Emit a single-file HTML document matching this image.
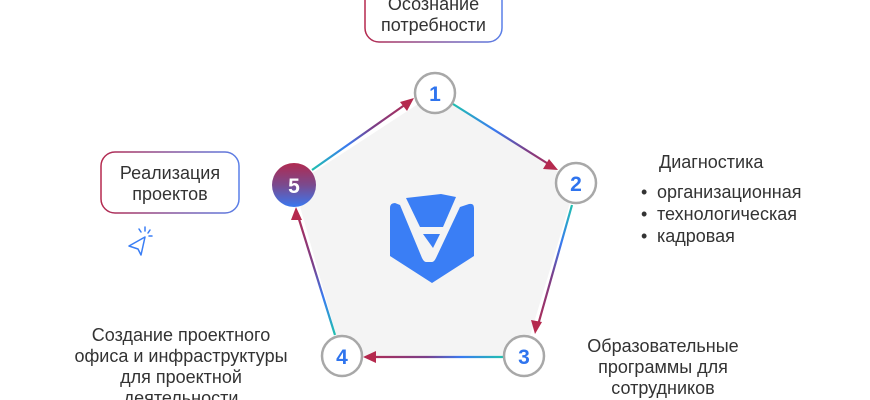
<!DOCTYPE html>
<html><head><meta charset="utf-8"><style>
html,body{margin:0;padding:0;background:#fff;width:870px;height:400px;overflow:hidden}
svg{display:block}
text{font-family:"Liberation Sans",Arial,sans-serif}
</style></head><body>
<svg width="870" height="400" viewBox="0 0 870 400" xmlns="http://www.w3.org/2000/svg">
<defs>
<linearGradient id="bx" x1="0" y1="0" x2="1" y2="0"><stop offset="0" stop-color="#b5294e"/><stop offset="1" stop-color="#5a7fe8"/></linearGradient>
<linearGradient id="c5" x1="0" y1="0" x2="0" y2="1"><stop offset="0" stop-color="#b02a50"/><stop offset="0.5" stop-color="#7a4a8e"/><stop offset="1" stop-color="#3a78f0"/></linearGradient>
<linearGradient id="e1" gradientUnits="userSpaceOnUse" x1="453" y1="104" x2="557" y2="170"><stop offset="0" stop-color="#20c0b0"/><stop offset="0.4" stop-color="#3a7af0"/><stop offset="0.7" stop-color="#7a3f8a"/><stop offset="1" stop-color="#b5294e"/></linearGradient>
<linearGradient id="e2" gradientUnits="userSpaceOnUse" x1="572" y1="205" x2="535" y2="333"><stop offset="0" stop-color="#20c0b0"/><stop offset="0.3" stop-color="#3a7af0"/><stop offset="0.55" stop-color="#7a3f8a"/><stop offset="1" stop-color="#b5294e"/></linearGradient>
<linearGradient id="e3" gradientUnits="userSpaceOnUse" x1="503" y1="357" x2="364" y2="357"><stop offset="0" stop-color="#20c0b0"/><stop offset="0.3" stop-color="#3a7af0"/><stop offset="0.55" stop-color="#7a3f8a"/><stop offset="1" stop-color="#b5294e"/></linearGradient>
<linearGradient id="e4" gradientUnits="userSpaceOnUse" x1="335" y1="335" x2="296" y2="208"><stop offset="0" stop-color="#20c0b0"/><stop offset="0.3" stop-color="#3a7af0"/><stop offset="0.55" stop-color="#7a3f8a"/><stop offset="1" stop-color="#b5294e"/></linearGradient>
<linearGradient id="e5" gradientUnits="userSpaceOnUse" x1="312" y1="170" x2="413" y2="99"><stop offset="0" stop-color="#20c0b0"/><stop offset="0.35" stop-color="#3a7af0"/><stop offset="0.6" stop-color="#7a3f8a"/><stop offset="1" stop-color="#b5294e"/></linearGradient>
</defs>
<polygon points="435,93 576,183 524,356 342,356 294,185" fill="#f4f4f4"/>
<g stroke-width="2.2" fill="none">
<line x1="453" y1="104" x2="550" y2="165" stroke="url(#e1)"/>
<line x1="572" y1="205" x2="538" y2="325" stroke="url(#e2)"/>
<line x1="503" y1="357" x2="372" y2="357" stroke="url(#e3)"/>
<line x1="335" y1="335" x2="298" y2="216" stroke="url(#e4)"/>
<line x1="312" y1="170" x2="406" y2="104" stroke="url(#e5)"/>
</g>
<g fill="#b5294e">
<polygon points="558,170 543,169 549,159"/>
<polygon points="535,334 531,320 542,322"/>
<polygon points="363,357 376,351 376,363"/>
<polygon points="296,207 302,220 291,220"/>
<polygon points="414,98 407,111 400,102"/>
</g>
<g fill="#fff" stroke="#a8a8a8" stroke-width="2.5">
<circle cx="435" cy="93" r="20"/>
<circle cx="576" cy="183" r="20"/>
<circle cx="524" cy="356" r="20"/>
<circle cx="342" cy="356" r="20"/>
</g>
<circle cx="294" cy="185" r="22" fill="url(#c5)"/>
<g font-size="21" font-weight="bold" text-anchor="middle" fill="#2f74ee">
<text x="435" y="101">1</text>
<text x="576" y="191">2</text>
<text x="524" y="364">3</text>
<text x="342" y="364">4</text>
<text x="294" y="193" fill="#fff">5</text>
</g>
<g fill="#3a7ef5">
<path d="M395,203 Q390,203 390,208 L390,256 L432,283 L474,256 L474,208 Q474,203 469,204 L460,207 L436,258 Q434,262 432,262 L426,262 Q424,262 422,258 L400,205 Z"/>
<path d="M406,198 L441,194 L456,197 L443,227 L420,227 Z"/>
<path d="M423,234 L440,234 L433,248 Z"/>
</g>
<rect x="365" y="-20" width="137" height="62" rx="14" fill="#fff" stroke="url(#bx)" stroke-width="1.5"/>
<text x="433.5" y="10" font-size="18" text-anchor="middle" fill="#333">Осознание</text>
<text x="433.5" y="31" font-size="18" text-anchor="middle" fill="#333">потребности</text>
<rect x="101" y="152" width="138" height="61" rx="14" fill="#fff" stroke="url(#bx)" stroke-width="1.5"/>
<text x="170" y="179" font-size="18" text-anchor="middle" fill="#333">Реализация</text>
<text x="170" y="200" font-size="18" text-anchor="middle" fill="#333">проектов</text>
<g stroke="#3a7ef5" stroke-width="1.5" fill="none" stroke-linecap="round" stroke-linejoin="round">
<path d="M129,246 L145,237 L141,255 L138,249 Z"/>
<line x1="145" y1="227" x2="145" y2="231"/>
<line x1="150" y1="230" x2="148" y2="233"/>
<line x1="152" y1="236" x2="149" y2="236"/>
<line x1="139" y1="229" x2="141" y2="232"/>
</g>
<g font-size="18" fill="#333">
<text x="659" y="168">Диагностика</text>
<text x="641" y="198">•</text><text x="657" y="198">организационная</text>
<text x="641" y="220">•</text><text x="657" y="220">технологическая</text>
<text x="641" y="242">•</text><text x="657" y="242">кадровая</text>
</g>
<g font-size="18" fill="#333" text-anchor="middle">
<text x="663" y="352">Образовательные</text>
<text x="663" y="373">программы для</text>
<text x="663" y="394">сотрудников</text>
<text x="181" y="341">Создание проектного</text>
<text x="181" y="362">офиса и инфраструктуры</text>
<text x="181" y="383">для проектной</text>
<text x="181" y="404">деятельности</text>
</g>
</svg>
</body></html>
